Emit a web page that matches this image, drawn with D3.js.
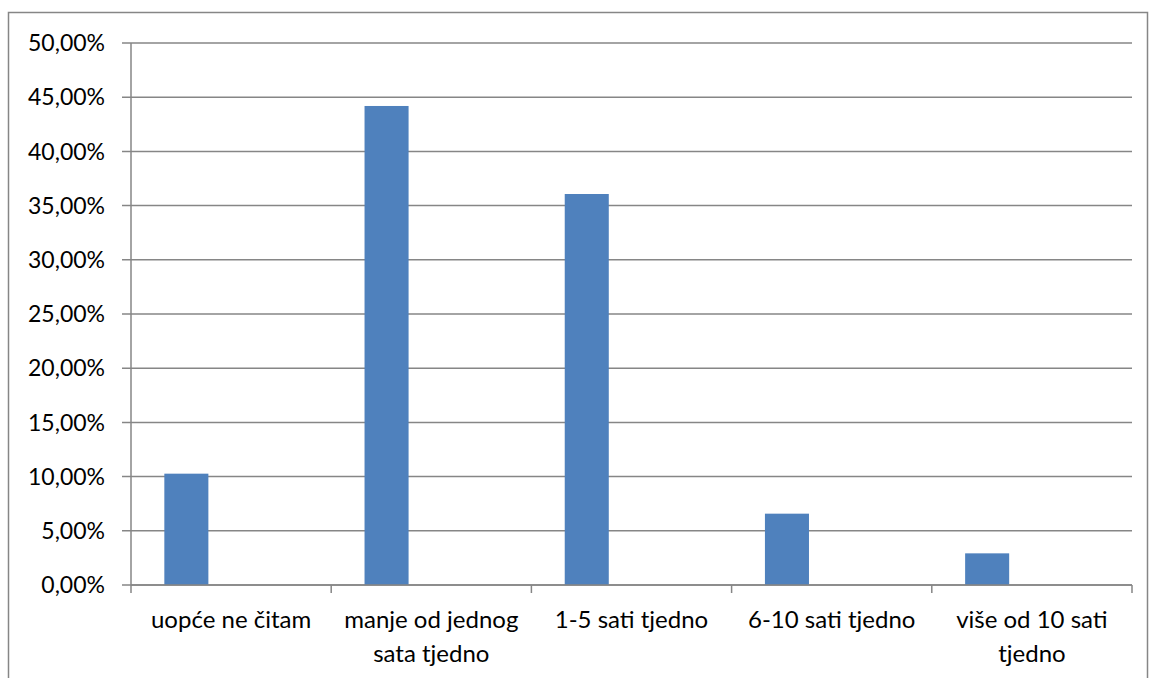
<!DOCTYPE html>
<html>
<head>
<meta charset="utf-8">
<script src="https://cdn.jsdelivr.net/npm/d3@7"></script>
<style>
  body { margin: 0; background: #fff; }
  svg { display: block; font-family: Lato, "Open Sans", sans-serif; }
</style>
</head>
<body>
<svg id="chart" width="1149" height="678"></svg>
<script>
// kategorije i vrijednosti (u postocima)
const categories = ["uopće ne čitam", "manje od jednog sata tjedno", "1-5 sati tjedno", "6-10 sati tjedno", "više od 10 sati tjedno"];
const labelLines = [["uopće ne čitam"], ["manje od jednog", "sata tjedno"], ["1-5 sati tjedno"], ["6-10 sati tjedno"], ["više od 10 sati", "tjedno"]];
const values = [10.27, 44.19, 36.07, 6.58, 2.92];
const yTicks = [0, 5, 10, 15, 20, 25, 30, 35, 40, 45, 50];

const svg = d3.select("#chart");
const W = 1149, H = 678;
const margin = { top: 43, bottom: 93, left: 131, right: 17 };
const grey = "#868686";

// okvir grafikona
svg.append("rect")
  .attr("x", 8.5).attr("y", 12.5)
  .attr("width", 1139).attr("height", 700)
  .attr("fill", "none").attr("stroke", grey).attr("stroke-width", 1.5);

const x = d3.scaleBand()
  .domain(categories)
  .range([margin.left, W - margin.right]);

const y = d3.scaleLinear()
  .domain([0, 50])
  .range([H - margin.bottom, margin.top]);

// mreža
svg.append("g")
  .selectAll("line")
  .data(yTicks)
  .join("line")
  .attr("x1", margin.left - 9).attr("x2", W - margin.right)
  .attr("y1", d => y(d)).attr("y2", d => y(d))
  .attr("stroke", grey).attr("stroke-width", 1.5);

// oznake osi y
svg.append("g")
  .selectAll("text")
  .data(yTicks)
  .join("text")
  .attr("x", 105).attr("y", d => y(d))
  .attr("dy", "0.36em")
  .attr("text-anchor", "end")
  .attr("font-size", 23)
  .attr("fill", "#000")
  .text(d => d.toFixed(2).replace(".", ",") + "%");

// os y
svg.append("line")
  .attr("x1", margin.left).attr("x2", margin.left)
  .attr("y1", y(50)).attr("y2", y(0))
  .attr("stroke", grey).attr("stroke-width", 1.5);

// stupci
svg.append("g")
  .selectAll("rect")
  .data(values)
  .join("rect")
  .attr("x", (d, i) => x(categories[i]) + x.bandwidth() * 0.1665)
  .attr("width", x.bandwidth() * 0.22)
  .attr("y", d => y(d))
  .attr("height", d => y(0) - y(d))
  .attr("fill", "#4F81BD");

// os x s crticama
svg.append("line")
  .attr("x1", margin.left).attr("x2", W - margin.right)
  .attr("y1", y(0)).attr("y2", y(0))
  .attr("stroke", grey).attr("stroke-width", 1.5);

const tickXs = categories.map(c => x(c)).concat([W - margin.right]);
svg.append("g")
  .selectAll("line")
  .data(tickXs)
  .join("line")
  .attr("x1", d => d).attr("x2", d => d)
  .attr("y1", y(0)).attr("y2", y(0) + 8)
  .attr("stroke", grey).attr("stroke-width", 1.5);

// oznake kategorija
const lbl = svg.append("g")
  .selectAll("text")
  .data(categories)
  .join("text")
  .attr("x", d => x(d) + x.bandwidth() / 2)
  .attr("y", 628)
  .attr("text-anchor", "middle")
  .attr("font-size", 24)
  .attr("fill", "#000");

lbl.selectAll("tspan")
  .data((d, i) => labelLines[i])
  .join("tspan")
  .attr("x", function () { return d3.select(this.parentNode).attr("x"); })
  .attr("dy", (d, i) => i === 0 ? 0 : 34)
  .text(d => d);
</script>
</body>
</html>
